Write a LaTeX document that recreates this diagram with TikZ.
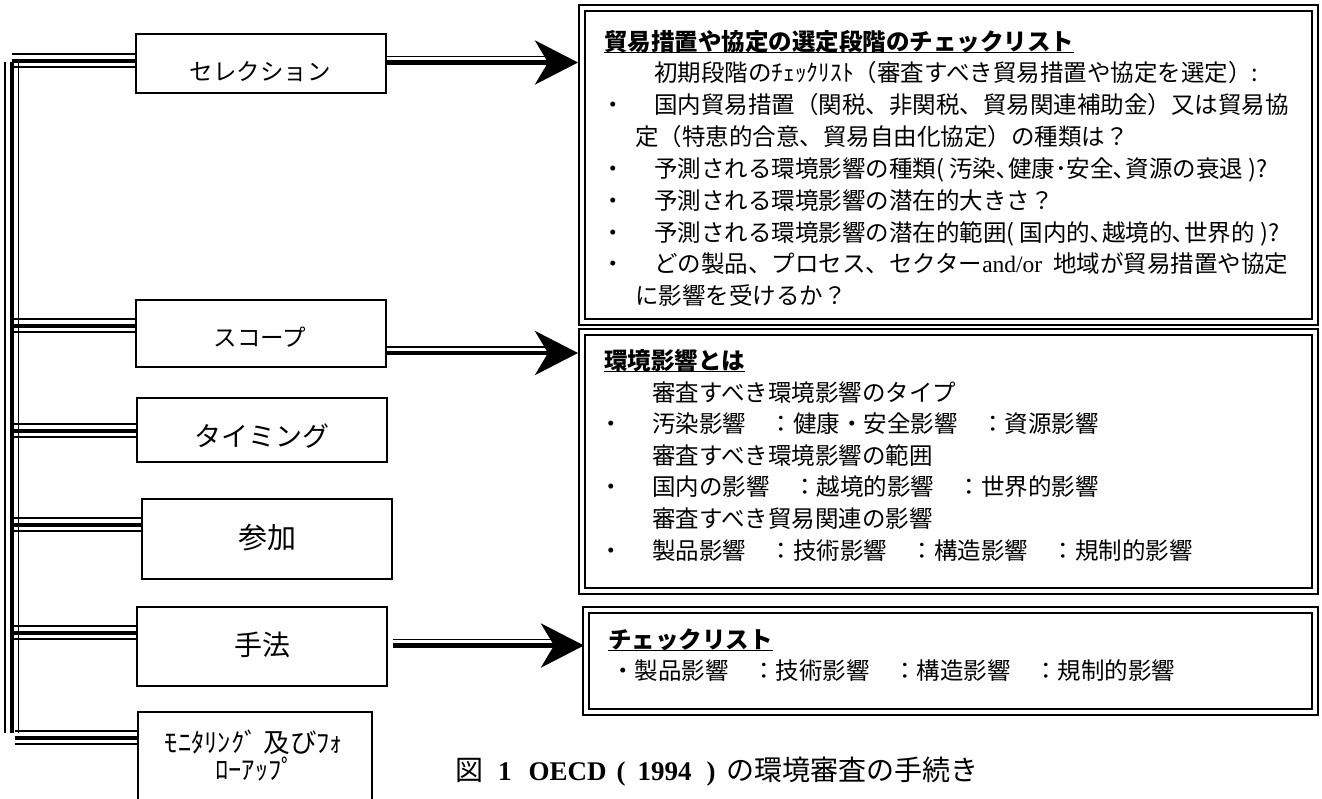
\documentclass[tikz,border=0pt]{standalone}
\usepackage{fontspec}
\setmainfont{Liberation Serif}
\newfontfamily\cjk{Noto Sans CJK JP}
\usetikzlibrary{arrows.meta}
\tikzset{
  lbox/.style={draw, line width=1.2pt, inner sep=0pt},
  rbox/.style={draw, line width=2pt, double, double distance=4pt, inner sep=0pt},
  txt/.style={inner sep=0pt, anchor=base west, font=\cjk\fontsize{23.5pt}{28pt}\selectfont},
  ttl/.style={txt, font=\cjk\bfseries\fontsize{23.5pt}{28pt}\selectfont},
  lab/.style={inner sep=0pt, anchor=center},
  thinl/.style={line width=1.5pt},
  thickl/.style={line width=4.5pt},
  arr/.style={line width=4.5pt, -{Stealth[length=43pt, width=44pt, inset=13pt]}},
  uline/.style={line width=1.5pt},
}
\newcommand\mytriple[2]{%
  \draw[thinl] ([yshift=7pt]#1) -- ([yshift=7pt]#2);
  \draw[thickl] (#1) -- (#2);
  \draw[thinl] ([yshift=-6pt]#1) -- ([yshift=-6pt]#2);}
\begin{document}
\begin{tikzpicture}[x=1pt,y=-1pt]
\useasboundingbox (0,0) rectangle (1322,798);
\clip (0,0) rectangle (1322,798);

% left boxes
\node[lbox, minimum width=250pt, minimum height=59pt] (sel) at (261,63.5) {};
\node[lbox, minimum width=250pt, minimum height=67pt] (scope) at (261,333.5) {};
\node[lbox, minimum width=250pt, minimum height=64pt] (timing) at (262,430) {};
\node[lbox, minimum width=250pt, minimum height=80pt] (sanka) at (267,539) {};
\node[lbox, minimum width=250pt, minimum height=79pt] (shuhou) at (262,646.5) {};
\node[lbox, minimum width=234pt, minimum height=118pt] (monitor) at (255,771) {};

\node[lab, font=\cjk\fontsize{23.5pt}{28pt}\selectfont] (l1) at (260,72) {セレクション};
\node[lab, font=\cjk\fontsize{23.5pt}{28pt}\selectfont] (l2) at (260,337) {スコープ};
\node[lab, font=\cjk\fontsize{27pt}{32pt}\selectfont] (l3) at (262,436) {タイミング};
\node[lab, font=\cjk\fontsize{29pt}{34pt}\selectfont] (l4) at (267,538) {参加};
\node[lab, font=\cjk\fontsize{28pt}{34pt}\selectfont] (l5) at (262,645) {手法};
\node[lab, font=\cjk\fontsize{26.5pt}{30pt}\selectfont] (l6) at (254,742) {ﾓﾆﾀﾘﾝｸﾞ 及びﾌｫ};
\node[lab, font=\cjk\fontsize{26.5pt}{30pt}\selectfont] (l7) at (255,769) {ﾛｰｱｯﾌﾟ};

% right boxes
\node[rbox, minimum width=733pt, minimum height=314pt] (box1) at (948.5,165) {};
\node[rbox, minimum width=733pt, minimum height=259pt] (box2) at (948.5,461.5) {};
\node[rbox, minimum width=729pt, minimum height=102pt] (box3) at (950.5,661) {};

% spine
\coordinate (spT) at (12,62);
\coordinate (spB) at (12,733);
\draw[thickl] (spT) -- (spB);
\draw[thinl] ([xshift=-7pt]spT) -- ([xshift=-7pt]spB);
\draw[thinl] ([xshift=6.5pt]spT) -- ([xshift=6.5pt]spB);

% branches
\coordinate (j1) at (12,61);  \coordinate (k1) at (j1 -| sel.west);
\coordinate (j2) at (12,326); \coordinate (k2) at (j2 -| scope.west);
\coordinate (j3) at (12,431); \coordinate (k3) at (j3 -| timing.west);
\coordinate (j4) at (12,525); \coordinate (k4) at (j4 -| sanka.west);
\coordinate (j5) at (12,633); \coordinate (k5) at (j5 -| shuhou.west);
\coordinate (j6) at (15,738); \coordinate (k6) at (j6 -| monitor.west);
\mytriple{j1}{k1}
\mytriple{j2}{k2}
\mytriple{j3}{k3}
\mytriple{j4}{k4}
\mytriple{j5}{k5}
\mytriple{j6}{k6}

% arrows
\coordinate (a1s) at ([yshift=1pt]sel.east);
\coordinate (a1x) at (a1s -| box1.west);
\draw[thinl] ([yshift=6pt]a1s) -- ([xshift=-30pt,yshift=6pt]a1x);
\draw[arr] (a1s) -- ([xshift=-3pt]a1x);

\coordinate (a2s) at ([yshift=-19.5pt]scope.east);
\coordinate (a2x) at (a2s -| box2.west);
\draw[thinl] ([yshift=6pt]a2s) -- ([xshift=-30pt,yshift=6pt]a2x);
\draw[arr] (a2s) -- ([xshift=-3pt]a2x);

\coordinate (a3s) at ([xshift=5pt,yshift=1pt]shuhou.east);
\coordinate (a3x) at (a3s -| box3.west);
\draw[thinl] ([yshift=6pt]a3s) -- ([xshift=-30pt,yshift=6pt]a3x);
\draw[arr] (a3s) -- ([xshift=-1pt]a3x);

% box 1 text
\node[ttl] (t1) at (604,50) {貿易措置や協定の選定段階のチェックリスト};
\draw[uline] (t1.south west) -- (t1.south east);
\node[txt] (t2) at (654,81) {初期段階のﾁｪｯｸﾘｽﾄ（審査すべき貿易措置や協定を選定）:};
\node[txt] (p3) at (601.5,113) {・};
\node[txt] (t3) at (654,113) {国内貿易措置（関税、非関税、貿易関連補助金）又は貿易協};
\node[txt] (t4) at (635,145) {定（特恵的合意、貿易自由化協定）の種類は？};
\node[txt] (p5) at (601.5,177) {・};
\node[txt] (t5) at (654,177) {予測される環境影響の種類( 汚染､健康･安全､資源の衰退 )?};
\node[txt] (p6) at (601.5,209) {・};
\node[txt] (t6) at (654,209) {予測される環境影響の潜在的大きさ？};
\node[txt] (p7) at (601.5,241) {・};
\node[txt] (t7) at (654,241) {予測される環境影響の潜在的範囲( 国内的､越境的､世界的 )?};
\node[txt] (p8) at (601.5,272) {・};
\node[txt] (t8) at (654,272) {どの製品、プロセス、セクター{\rmfamily and/or}\hspace{11pt}地域が貿易措置や協定};
\node[txt] (t9) at (635,304) {に影響を受けるか？};

% box 2 text
\node[ttl] (s1) at (604,369) {環境影響とは};
\draw[uline] (s1.south west) -- (s1.south east);
\node[txt] (s2) at (652,401) {審査すべき環境影響のタイプ};
\node[txt] (q3) at (599.5,432) {・};
\node[txt] (s3) at (652,432) {汚染影響　：健康・安全影響　：資源影響};
\node[txt] (s4) at (652,464) {審査すべき環境影響の範囲};
\node[txt] (q5) at (599.5,495) {・};
\node[txt] (s5) at (652,495) {国内の影響　：越境的影響　：世界的影響};
\node[txt] (s6) at (652,527) {審査すべき貿易関連の影響};
\node[txt] (q7) at (599.5,559) {・};
\node[txt] (s7) at (652,559) {製品影響　：技術影響　：構造影響　：規制的影響};

% box 3 text
\node[ttl] (c1) at (608,648) {チェックリスト};
\draw[uline] (c1.south west) -- (c1.south east);
\node[txt] (c2) at (611,679) {・製品影響　：技術影響　：構造影響　：規制的影響};

% caption
\node[inner sep=0pt, anchor=base west, font=\fontsize{27pt}{32pt}\selectfont] (cap) at (455,780)
  {{\cjk\fontsize{28pt}{32pt}\selectfont 図}\hspace{15pt}\textbf{1}\hspace{17pt}\textbf{OECD}\hspace{10pt}\textbf{(}\hspace{12pt}\textbf{1994}\hspace{15pt}\textbf{)}\hspace{11pt}{\cjk\fontsize{28pt}{32pt}\selectfont の環境審査の手続き}};
\end{tikzpicture}
\end{document}
